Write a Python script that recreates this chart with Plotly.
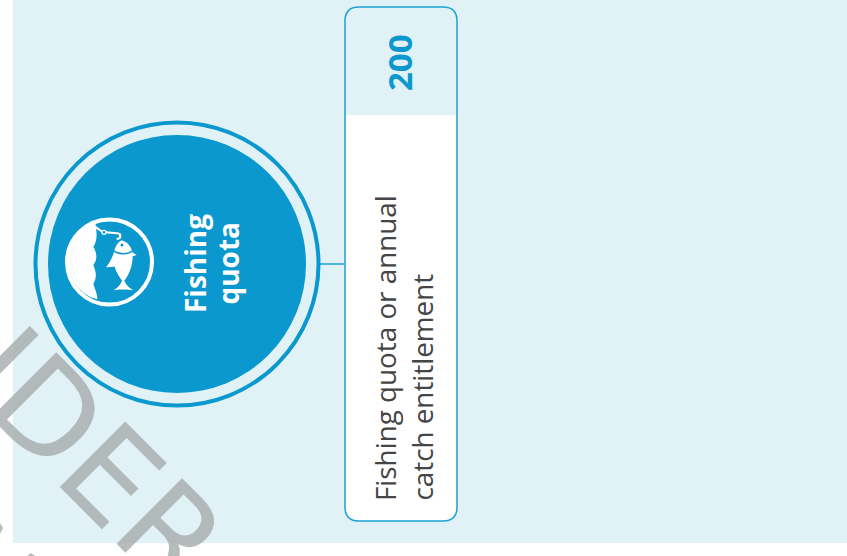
import plotly.graph_objects as go

# content
category = ["Fishing", "quota"]
value_label = "200"
description = ["Fishing quota or annual", "catch entitlement"]
watermark = "IDER"

W, H = 847, 556
BLUE = "#0A98CE"
LINE = "#1AA3D4"
PALE = "#E1F2F7"
SANS = "Open Sans, Noto Sans, sans-serif"
MARK = "rgba(165,170,170,0.8)"


def circle(cx, cy, r, **kw):
    return dict(type="circle", x0=cx - r, x1=cx + r, y0=cy - r, y1=cy + r, xref="x", yref="y", **kw)


def rect(x0, y0, x1, y1, **kw):
    return dict(type="rect", x0=x0, x1=x1, y0=y0, y1=y1, xref="x", yref="y", **kw)


def zpath(d, **kw):
    """d holds tokens: letters stay, numbers come in pairs in the icon's 3x crop space."""
    out, nums = [], []
    for tok in d.split():
        if tok.isalpha():
            out.append(tok)
        else:
            nums.append(float(tok))
            if len(nums) == 2:
                out.append(f"{60 + nums[0] / 3:.2f},{210 + nums[1] / 3:.2f}")
                nums = []
    return dict(type="path", path=" ".join(out), xref="x", yref="y", layer="above", **kw)


rr = 14
bx0, bx1, by0, by1, bsplit = 345, 457, 7, 521, 115
white_part = (f"M {bx0},{bsplit} L {bx1},{bsplit} L {bx1},{by1 - rr} Q {bx1},{by1} {bx1 - rr},{by1} "
              f"L {bx0 + rr},{by1} Q {bx0},{by1} {bx0},{by1 - rr} Z")
outline = (f"M {bx0 + rr},{by0} L {bx1 - rr},{by0} Q {bx1},{by0} {bx1},{by0 + rr} L {bx1},{by1 - rr} "
           f"Q {bx1},{by1} {bx1 - rr},{by1} L {bx0 + rr},{by1} Q {bx0},{by1} {bx0},{by1 - rr} "
           f"L {bx0},{by0 + rr} Q {bx0},{by0} {bx0 + rr},{by0} Z")

shapes = [
    rect(13, 0, W, 543, fillcolor=PALE, line_width=0, layer="below"),
    dict(type="line", x0=318, x1=346, y0=264, y1=264, xref="x", yref="y", line=dict(color=LINE, width=1.5)),
    circle(177, 264, 141.5, fillcolor=PALE, line=dict(color=BLUE, width=4)),
    circle(177, 264, 129, fillcolor=BLUE, line_width=0),
    dict(type="path", path=white_part, xref="x", yref="y", fillcolor="white", line_width=0),
    dict(type="path", path=outline, xref="x", yref="y", line=dict(color=LINE, width=1.5)),
    # icon
    circle(109.5, 262, 42.5, line=dict(color="white", width=4)),
    zpath("M 105 33 C 60 45 24 95 24 150 C 24 205 60 255 112 268 C 112 255 108 245 100 222 C 108 205 112 195 100 165 "
          "C 112 150 112 130 100 110 C 112 95 112 70 105 33 Z", fillcolor="white", line_width=0),
    zpath("M 34 150 C 34 105 58 70 90 50", line=dict(color=PALE, width=0.5)),
    zpath("M 34 150 C 34 195 58 230 90 250", line=dict(color=PALE, width=0.5)),
    # hook
    zpath("M 105 50 L 128 66 L 172 70 C 185 72 184 86 170 87", line=dict(color="white", width=2)),
    circle(104, 232.3, 2, fillcolor=BLUE, line=dict(color="white", width=1.2)),
    # fish
    zpath("M 185 91 C 205 97 214 112 217 127 L 230 135 L 218 139 C 218 165 208 195 193 212 "
          "C 198 225 210 236 222 241 C 205 238 172 238 159 241 C 170 236 182 225 186 212 "
          "C 176 198 168 185 164 170 L 138 172 C 148 160 156 145 162 127 C 165 110 172 98 185 91 Z",
          fillcolor="white", line_width=0),
    zpath("M 162 122 C 175 134 200 134 216 124", line=dict(color=BLUE, width=1.4)),
    circle(122, 245, 1.5, fillcolor=BLUE, line_width=0),
    # slivers of the watermark's next row at the page corner
    dict(type="path", path="M 0,523 L 3,528 L 0,534 Z", xref="x", yref="y", fillcolor=MARK, line_width=0),
    dict(type="path", path="M 31,553 L 35,556 L 27,556 Z", xref="x", yref="y", fillcolor=MARK, line_width=0),
]

annotations = [
    dict(text=watermark, x=94, y=459, textangle=45, showarrow=False,
         font=dict(family="DejaVu Sans", size=127, color=MARK)),
    dict(text=f"<b>{category[0]}</b>", x=194.5, y=263.5, textangle=-90, showarrow=False,
         font=dict(family=SANS, size=28, color="white")),
    dict(text=f"<b>{category[1]}</b>", x=227, y=263.5, textangle=-90, showarrow=False,
         font=dict(family=SANS, size=28, color="white")),
    dict(text=f"<b>{value_label}</b>", x=399, y=63, textangle=-90, showarrow=False,
         font=dict(family=SANS, size=33, color=BLUE)),
    dict(text=description[0], x=385, y=503, yanchor="bottom", textangle=-90, showarrow=False,
         font=dict(family=SANS, size=27.8, color="#454545")),
    dict(text=description[1], x=421, y=503, yanchor="bottom", textangle=-90, showarrow=False,
         font=dict(family=SANS, size=27.8, color="#454545")),
]

fig = go.Figure()
fig.update_layout(
    width=W, height=H, margin=dict(l=0, r=0, t=0, b=0),
    paper_bgcolor="white", plot_bgcolor="rgba(0,0,0,0)", showlegend=False,
    xaxis=dict(range=[0, W], visible=False, fixedrange=True),
    yaxis=dict(range=[H, 0], visible=False, fixedrange=True),
    shapes=shapes, annotations=annotations,
)
fig.write_html("out.html", config=dict(displayModeBar=False),
               post_script="document.body.style.margin='0';document.body.style.overflow='hidden';")
